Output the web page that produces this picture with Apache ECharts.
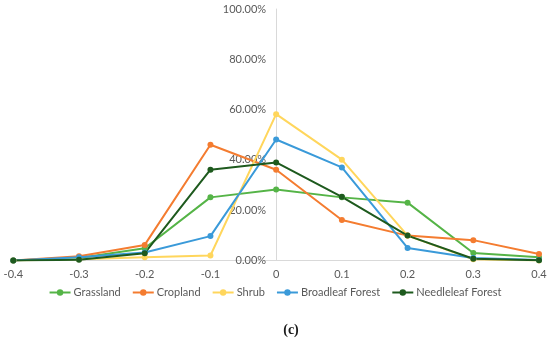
<!DOCTYPE html>
<html>
<head>
<meta charset="utf-8">
<script src="https://cdn.jsdelivr.net/npm/echarts@6/dist/echarts.min.js"></script>
<style>html,body{margin:0;padding:0;background:#fff;}#c{width:550px;height:338px;}</style>
</head>
<body>
<div id="c"></div>
<script>
var xValues = [-0.4, -0.3, -0.2, -0.1, 0, 0.1, 0.2, 0.3, 0.4];
var grassland  = [0.000, 0.010, 0.049, 0.251, 0.282, 0.251, 0.230, 0.030, 0.013];
var cropland   = [0.000, 0.017, 0.062, 0.460, 0.361, 0.161, 0.099, 0.081, 0.026];
var shrub      = [0.000, 0.005, 0.013, 0.020, 0.582, 0.401, 0.099, 0.005, 0.000];
var broadleaf  = [0.000, 0.013, 0.032, 0.097, 0.481, 0.370, 0.050, 0.010, 0.002];
var needleleaf = [0.000, 0.003, 0.029, 0.361, 0.390, 0.253, 0.099, 0.007, 0.001];
var seriesNames = ['Grassland', 'Cropland', 'Shrub', 'Broadleaf Forest', 'Needleleaf Forest'];
var seriesColors = ['#55B447', '#F47C30', '#FFD65C', '#3A9AD9', '#1E5A1E'];
var seriesValues = [grassland, cropland, shrub, broadleaf, needleleaf];

function pairs(vals) { return xValues.map(function (x, i) { return [x, vals[i]]; }); }

var gridLeft = 13.3, gridRight = 11;
var plotW = 550 - gridLeft - gridRight;
var zeroOffset = -plotW * 0.5; // place y axis at x = 0

var chart = echarts.init(document.getElementById('c'), null, {renderer: 'canvas'});
var font = 'Lato, "Open Sans", sans-serif';
chart.setOption({
  animation: false,
  backgroundColor: '#ffffff',
  grid: {left: gridLeft, right: gridRight, top: 9, bottom: 77.5, containLabel: false, outerBoundsMode: 'none'},
  xAxis: {
    type: 'value', min: -0.4, max: 0.4, interval: 0.1,
    axisLine: {show: true, onZero: true, lineStyle: {color: '#d9d9d9', width: 1}},
    axisTick: {show: false},
    splitLine: {show: false},
    axisLabel: {color: '#595959', fontSize: 11, fontFamily: font, margin: 8,
      formatter: function (v) { return String(parseFloat(v.toFixed(1))); }}
  },
  yAxis: {
    type: 'value', min: 0, max: 1, interval: 0.2,
    position: 'left', offset: zeroOffset,
    axisLine: {show: true, onZero: false, lineStyle: {color: '#d9d9d9', width: 1}},
    axisTick: {show: false},
    splitLine: {show: false},
    axisLabel: {color: '#595959', fontSize: 11, fontFamily: font, margin: 10,
      formatter: function (v) { return (v * 100).toFixed(2) + '%'; }}
  },
  legend: {
    data: seriesNames,
    left: 'center', top: 282,
    itemWidth: 21, itemHeight: 8, itemGap: 11,
    textStyle: {color: '#595959', fontSize: 11, fontFamily: font, padding: [0, 0, 0, -2]}
  },
  title: {
    text: '(c)', left: 286, top: 318, textAlign: 'center',
    textStyle: {fontFamily: '"Liberation Serif", "DejaVu Serif", serif', fontWeight: 'bold', fontSize: 14, color: '#1a1a1a'}
  },
  series: seriesNames.map(function (n, i) {
    return {
      name: n, type: 'line', data: pairs(seriesValues[i]),
      color: seriesColors[i],
      symbol: 'circle', symbolSize: 6,
      lineStyle: {width: 2, color: seriesColors[i]},
      itemStyle: {color: seriesColors[i]}
    };
  })
});
</script>
</body>
</html>
